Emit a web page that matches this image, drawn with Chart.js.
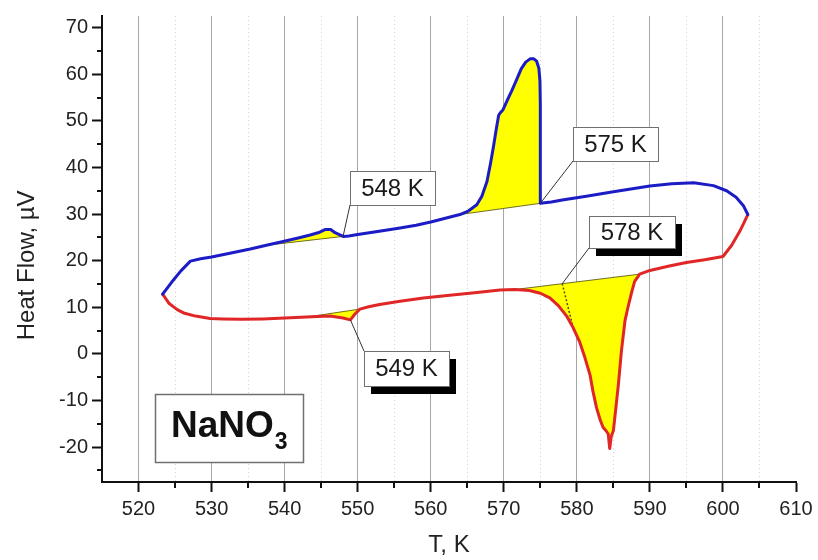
<!DOCTYPE html>
<html>
<head>
<meta charset="utf-8">
<title>NaNO3 heat flow</title>
<script src="https://cdn.jsdelivr.net/npm/chart.js@4.4.1/dist/chart.umd.min.js"></script>
<style>
  html, body { margin: 0; padding: 0; background: #fff; }
</style>
</head>
<body>
<canvas id="dsc" width="818" height="560"></canvas>
<script>
// heating run, K / uV
const heatT = [523.3, 524.5, 525.8, 527.1, 528.5, 530.0, 532.5, 535.3, 537.5, 539.8,
               542.0, 543.5, 544.8, 545.6, 546.3, 546.9, 548.0, 548.8, 550.0, 552.5,
               555.8, 558.0, 560.0, 562.0, 564.0, 565.2, 566.3, 567.0, 567.7, 568.2,
               568.6, 569.0, 569.3, 569.5, 569.9, 570.5, 571.1, 571.8, 572.4, 573.0,
               573.6, 574.1, 574.5, 574.8, 574.95, 575.0, 575.0, 576.5, 578.0, 581.3,
               585.0, 590.0, 593.0, 596.0, 598.7, 600.5, 601.8, 602.8, 603.4];
const heatHF = [12.8, 15.3, 17.8, 19.9, 20.4, 20.8, 21.6, 22.5, 23.3, 24.1,
                24.9, 25.5, 26.1, 26.7, 26.7, 26.0, 25.2, 25.3, 25.6, 26.2,
                27.0, 27.6, 28.3, 29.1, 29.9, 30.7, 32.0, 33.8, 37.0, 41.0,
                44.6, 48.5, 51.2, 51.7, 52.4, 54.5, 56.5, 59.0, 61.2, 62.6,
                63.3, 63.3, 62.8, 61.3, 58.5, 53.5, 32.3, 32.6, 33.0, 33.8,
                34.8, 36.0, 36.5, 36.7, 36.1, 35.0, 33.6, 31.8, 29.9];

// cooling run
const coolT = [603.4, 602.9, 602.3, 601.2, 600.0, 597.5, 595.0, 592.5, 590.0, 588.6,
               587.9, 587.5, 587.0, 586.6, 586.1, 585.7, 585.4, 585.0, 584.7, 584.5,
               584.3, 584.0, 583.6, 583.2, 582.7, 582.2, 581.8, 581.1, 580.4, 579.5,
               578.6, 577.5, 576.3, 575.0, 573.5, 571.5, 569.5, 566.0, 562.6, 559.0,
               555.8, 553.0, 551.5, 550.3, 549.6, 549.0, 548.0, 546.2, 544.5, 543.0,
               540.0, 537.0, 534.0, 531.5, 529.8, 527.8, 526.3, 525.3, 524.2, 523.3];
const coolHF = [29.9, 28.2, 26.3, 23.3, 20.9, 20.2, 19.6, 18.8, 17.9, 17.1,
                15.5, 13.2, 10.0, 7.2, 0.6, -6.4, -10.8, -16.5, -17.8, -20.3,
                -17.2, -16.5, -15.8, -14.2, -11.6, -8.0, -4.5, -0.8, 2.5, 5.6,
                8.1, 10.3, 12.0, 13.0, 13.6, 13.8, 13.7, 13.1, 12.6, 12.0,
                11.3, 10.6, 10.1, 9.6, 8.5, 7.3, 7.7, 8.1, 8.0, 7.9,
                7.7, 7.5, 7.4, 7.5, 7.6, 8.1, 8.7, 9.5, 10.8, 12.8];

// integrated peaks: [first index, last index] in each run
const heatPeaks = [[8, 16], [24, 46]];
const coolPeaks = [[9, 35], [43, 49]];

// onset construction under the 578 K peak
const onsetT = [578.0, 579.5];
const onsetHF = [15.05, 5.6];

const xMajor = [520, 530, 540, 550, 560, 570, 580, 590, 600, 610];
const xMinor = [525, 535, 545, 555, 565, 575, 585, 595, 605];
const yMajor = [-20, -10, 0, 10, 20, 30, 40, 50, 60, 70];
const yMinor = [-25, -15, -5, 5, 15, 25, 35, 45, 55, 65];

const FONT = '"Liberation Sans", Arial, Helvetica, sans-serif';
const Y_TITLE = 'Heat Flow, \u00b5V';

// callouts: temperature, box corners (K, uV), leader start corner, leader end
const notes = [
  { peak: 548, box: [548.96, 39.18, 560.59, 31.96], corner: 'bl', end: [548.0, 25.2], shadow: false },
  { peak: 575, box: [579.43, 48.65, 591.14, 41.28], corner: 'bl', end: [575.0, 32.3], shadow: false },
  { peak: 578, box: [581.70, 29.64, 593.42, 22.63], corner: 'bl', end: [578.0, 15.05], shadow: true },
  { peak: 549, box: [550.92, 0.53, 562.55, -6.84], corner: 'tl', end: [549.0, 7.3], shadow: true }
];
const sampleBox = [522.28, -8.53, 542.53, -23.2];

function toPoints(xs, ys) {
  return xs.map((v, i) => ({ x: v, y: ys[i] }));
}

// closed polygon: curve section, then straight baseline back to its start
function peakArea(xs, ys, range) {
  const pts = toPoints(xs, ys).slice(range[0], range[1] + 1);
  pts.push({ x: pts[0].x, y: pts[0].y });
  return {
    data: pts,
    showLine: true,
    fill: 'shape',
    backgroundColor: '#ffff00',
    borderColor: 'rgba(95, 95, 20, 0.9)',
    borderWidth: 1,
    pointRadius: 0,
    tension: 0,
    order: 2
  };
}

const minorGrid = {
  id: 'minorGrid',
  beforeDatasetsDraw(chart) {
    const { ctx, chartArea: a, scales: { x, y } } = chart;
    ctx.save();
    ctx.strokeStyle = '#d2d2d2';
    ctx.lineWidth = 1;
    ctx.setLineDash([1, 3]);
    xMinor.forEach(v => {
      const px = Math.round(x.getPixelForValue(v)) + 0.5;
      ctx.beginPath();
      ctx.moveTo(px, a.top);
      ctx.lineTo(px, a.bottom);
      ctx.stroke();
    });
    ctx.setLineDash([]);
    ctx.strokeStyle = '#111';
    ctx.lineWidth = 2;
    ctx.beginPath();
    xMinor.forEach(v => {
      const px = Math.round(x.getPixelForValue(v));
      ctx.moveTo(px, a.bottom);
      ctx.lineTo(px, a.bottom + 6);
    });
    yMinor.forEach(v => {
      const py = Math.round(y.getPixelForValue(v));
      ctx.moveTo(a.left, py);
      ctx.lineTo(a.left - 5, py);
    });
    ctx.stroke();

    // vertical axis title, set a little below the middle of the axis
    ctx.fillStyle = '#222';
    ctx.font = '24px ' + FONT;
    ctx.textAlign = 'center';
    ctx.textBaseline = 'middle';
    ctx.translate(27, y.getPixelForValue(19));
    ctx.rotate(-Math.PI / 2);
    ctx.fillText(Y_TITLE, 0, 0);
    ctx.restore();
  }
};

const peakNotes = {
  id: 'peakNotes',
  afterDatasetsDraw(chart) {
    const { ctx, scales: { x, y } } = chart;
    ctx.save();
    notes.forEach(n => {
      const x0 = Math.round(x.getPixelForValue(n.box[0]));
      const y0 = Math.round(y.getPixelForValue(n.box[1]));
      const x1 = Math.round(x.getPixelForValue(n.box[2]));
      const y1 = Math.round(y.getPixelForValue(n.box[3]));
      const sy = n.corner === 'tl' ? y0 : y1;

      ctx.strokeStyle = '#333';
      ctx.lineWidth = 1;
      ctx.beginPath();
      ctx.moveTo(x0, sy);
      ctx.lineTo(x.getPixelForValue(n.end[0]), y.getPixelForValue(n.end[1]));
      ctx.stroke();

      if (n.shadow) {
        ctx.fillStyle = '#000';
        ctx.fillRect(x0 + 7, y0 + 8, x1 - x0, y1 - y0);
      }
      ctx.fillStyle = '#fff';
      ctx.fillRect(x0, y0, x1 - x0, y1 - y0);
      ctx.strokeStyle = '#707070';
      ctx.strokeRect(x0 + 0.5, y0 + 0.5, x1 - x0, y1 - y0);

      ctx.fillStyle = '#1a1a1a';
      ctx.font = '24px ' + FONT;
      ctx.textAlign = 'center';
      ctx.textBaseline = 'middle';
      ctx.fillText(n.peak + ' K', (x0 + x1) / 2, (y0 + y1) / 2 + 1);
    });

    // sample name
    const bx0 = Math.round(x.getPixelForValue(sampleBox[0]));
    const by0 = Math.round(y.getPixelForValue(sampleBox[1]));
    const bx1 = Math.round(x.getPixelForValue(sampleBox[2]));
    const by1 = Math.round(y.getPixelForValue(sampleBox[3]));
    ctx.fillStyle = '#fff';
    ctx.fillRect(bx0, by0, bx1 - bx0, by1 - by0);
    ctx.strokeStyle = '#707070';
    ctx.lineWidth = 1.5;
    ctx.strokeRect(bx0 + 0.5, by0 + 0.5, bx1 - bx0, by1 - by0);
    ctx.fillStyle = '#111';
    ctx.textAlign = 'left';
    ctx.textBaseline = 'alphabetic';
    ctx.font = 'bold 37px ' + FONT;
    const main = 'NaNO';
    ctx.fillText(main, bx0 + 16, by0 + 43);
    const w = ctx.measureText(main).width;
    ctx.font = 'bold 23px ' + FONT;
    ctx.fillText('3', bx0 + 16 + w + 1, by0 + 55);
    ctx.restore();
  }
};

new Chart(document.getElementById('dsc'), {
  type: 'scatter',
  data: {
    datasets: [
      {
        label: 'heating',
        data: toPoints(heatT, heatHF),
        showLine: true,
        borderColor: '#1c1cc6',
        borderWidth: 3,
        borderJoinStyle: 'round',
        borderCapStyle: 'round',
        pointRadius: 0,
        tension: 0,
        order: 0
      },
      {
        label: 'cooling',
        data: toPoints(coolT, coolHF),
        showLine: true,
        borderColor: '#e02626',
        borderWidth: 3,
        borderJoinStyle: 'round',
        borderCapStyle: 'round',
        pointRadius: 0,
        tension: 0,
        order: 0
      },
      {
        label: 'onset',
        data: toPoints(onsetT, onsetHF),
        showLine: true,
        borderColor: '#5a4a10',
        borderWidth: 1.5,
        borderDash: [2, 2],
        pointRadius: 0,
        order: 1
      },
      ...heatPeaks.map(r => peakArea(heatT, heatHF, r)),
      ...coolPeaks.map(r => peakArea(coolT, coolHF, r))
    ]
  },
  options: {
    responsive: false,
    animation: false,
    layout: { padding: { top: 8, right: 22, left: 0, bottom: 0 } },
    plugins: {
      legend: { display: false },
      tooltip: { enabled: false }
    },
    scales: {
      x: {
        type: 'linear',
        min: 515,
        max: 610,
        afterBuildTicks: s => { s.ticks = xMajor.map(v => ({ value: v })); },
        afterFit: s => { s.height = 78; },
        ticks: { font: { family: FONT, size: 20 }, color: '#222', padding: 5, autoSkip: false, maxRotation: 0 },
        grid: {
          color: c => (c.tick && c.tick.value < 610 ? '#a6a6a6' : 'rgba(0,0,0,0)'),
          lineWidth: 1,
          tickColor: '#111',
          tickWidth: 2,
          tickLength: 10
        },
        border: { color: '#111', width: 2 },
        title: { display: true, text: 'T, K', font: { family: FONT, size: 24 }, color: '#222', padding: { top: 0, bottom: 0 } }
      },
      y: {
        type: 'linear',
        min: -27.5,
        max: 72.5,
        afterBuildTicks: s => { s.ticks = yMajor.map(v => ({ value: v })); },
        afterFit: s => { s.width = 102; },
        ticks: { font: { family: FONT, size: 20 }, color: '#222', padding: 4 },
        grid: {
          drawOnChartArea: false,
          tickColor: '#111',
          tickWidth: 2,
          tickLength: 10
        },
        border: { color: '#111', width: 2 }
      }
    }
  },
  plugins: [minorGrid, peakNotes]
});
</script>
</body>
</html>
